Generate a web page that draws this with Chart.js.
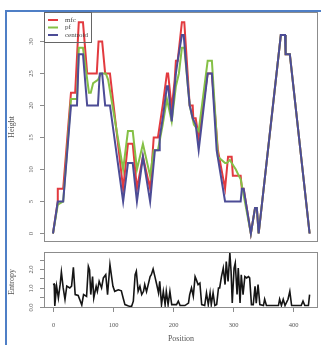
<!DOCTYPE html>
<html>
<head>
<meta charset="utf-8">
<script src="https://cdn.jsdelivr.net/npm/chart.js@4/dist/chart.umd.min.js"></script>
<style>
  html, body { margin: 0; padding: 0; background: #fff; }
  #wrap { position: relative; width: 321px; height: 345px; overflow: hidden; }
  #frame { position: absolute; left: 5px; top: 10px; width: 330px; height: 340px; border-top: 2px solid #4f7fc6; border-left: 2px solid #4f7fc6; }
  canvas { position: absolute; left: 0; top: 0; }
</style>
</head>
<body>
<div id="wrap">
  <div id="frame"></div>
  <canvas id="heightChart" width="321" height="345"></canvas>
  <canvas id="entropyChart" width="321" height="345"></canvas>
</div>
<script>
// tick labels
const positionTicks = [0, 100, 200, 300, 400];
const heightTicks = [0, 5, 10, 15, 20, 25, 30];
const entropyTicks = [0, 0.5, 1, 1.5, 2, 2.5];
const entropyLabelled = [0, 1, 2];

// height profiles (position, height)
const mfcPos = [0, 8, 8, 17, 30, 37, 43, 50, 57, 73, 76, 82, 87, 95, 117, 125, 133, 140, 150, 162, 168, 175, 183, 190, 192, 198, 203, 205, 208, 215, 219, 228, 233, 234, 238, 243, 258, 265, 275, 287, 290, 292, 298, 300, 313, 315, 318, 330, 337, 340, 343, 380, 387, 388, 395, 428];
const mfcVal = [0, 5, 7, 7, 22, 22, 33, 33, 25, 25, 30, 30, 25, 25, 7, 14, 14, 7, 12, 7, 15, 15, 20, 25, 25, 19.5, 24, 27, 27, 33, 33, 20, 20, 18, 18, 15, 25, 25, 13, 7, 10, 12, 12, 9, 9, 7, 7, 0, 4, 4, 0, 31, 31, 28, 28, 0];

const pfPos = [0, 8, 17, 30, 40, 43, 50, 60, 63, 67, 75, 80, 88, 92, 117, 125, 133, 140, 150, 162, 168, 175, 183, 190, 198, 205, 210, 215, 219, 228, 235, 243, 258, 265, 275, 287, 290, 295, 298, 305, 310, 313, 330, 337, 340, 343, 380, 387, 388, 395, 428];
const pfVal = [0, 4.5, 5, 21, 21, 29, 29, 22, 22, 23.5, 24, 25, 25, 24, 10, 16, 16, 10, 14, 9, 13, 13, 17, 21, 17.5, 23, 25, 29, 29, 20, 17, 16, 27, 27, 12, 11, 11, 11.5, 11, 10, 9, 8.5, 0, 4, 4, 0, 31, 31, 28, 28, 0];

const centroidPos = [0, 8, 17, 30, 40, 43, 50, 57, 75, 78, 82, 87, 95, 117, 125, 133, 140, 150, 162, 170, 177, 178, 183, 190, 192, 198, 203, 205, 208, 215, 218, 225, 228, 233, 238, 243, 258, 265, 273, 287, 313, 315, 318, 330, 337, 340, 343, 380, 387, 388, 395, 428];
const centroidVal = [0, 5, 5, 20, 20, 28, 28, 20, 20, 25, 25, 20, 20, 5, 11, 11, 5, 12, 5, 13, 13, 15, 18, 23, 23, 17.5, 23, 25, 27, 31, 31, 23, 20, 18, 17, 13, 25, 25, 13, 5, 5, 7, 7, 0, 4, 4, 0, 31, 31, 28, 28, 0];

// entropy (position, entropy)
const entropyPos = [0, 2, 3, 6, 9, 12, 14, 17, 20, 23, 28, 31, 34, 37, 42, 48, 51, 56, 59, 61,
  63, 66, 68, 72, 74, 77, 81, 84, 88, 91, 95, 98, 100, 103, 109, 114, 117, 120, 126, 131,
  134, 137, 139, 142, 145, 148, 151, 153, 156, 162, 164, 167, 170, 173, 176, 178, 181, 184, 187, 189,
  192, 195, 198, 206, 209, 212, 220, 226, 228, 231, 234, 237, 239, 242, 245, 248, 253, 256, 259, 262,
  264, 267, 270, 273, 276, 278, 281, 284, 287, 289, 292, 295, 297, 299, 302, 304, 307, 309, 312, 314,
  317, 320, 323, 326, 328, 331, 334, 337, 339, 342, 345, 351, 353, 356, 376, 378, 381, 384, 387, 392,
  395, 398, 414, 417, 420, 426, 428];
const entropyVal = [1.18, 1.2, 0.05, 1.1, 0.47, 1.2, 1.84, 1.0, 0.39, 1.1, 1.0, 1.1, 2.09, 0.65, 0.6, 0.1, 0.65, 0.55, 2.14, 1.96,
  0.65, 1.6, 0.47, 1.09, 0.82, 1.35, 1.0, 1.53, 1.7, 0.65, 2.23, 1.53, 1.09, 0.82, 0.9, 0.85, 0.47, 0.12, 0.05, 0.02,
  0.3, 1.7, 1.88, 0.82, 1.09, 0.65, 0.82, 1.18, 0.8, 1.6, 1.7, 2.0, 1.6, 1.18, 0.74, 1.35, 0.12, 0.82, 0.12, 0.82,
  0.12, 0.82, 0.12, 0.12, 0.3, 0.07, 0.07, 0.2, 0.65, 1.0, 0.56, 1.6, 1.44, 1.18, 1.26, 0.12, 0.07, 0.74, 0.12, 0.74,
  0.12, 0.74, 0.07, 0.12, 1.0, 1.0, 1.6, 2.05, 1.18, 2.4, 1.35, 2.84, 1.88, 0.2, 2.05, 2.32, 0.65, 2.05, 0.2, 1.7,
  0.65, 1.6, 1.53, 1.6, 1.53, 0.12, 0.12, 1.09, 0.2, 1.18, 0.12, 0.07, 0.4, 0.07, 0.07, 0.4, 0.07, 0.4, 0.07, 0.4,
  0.82, 0.07, 0.07, 0.3, 0.07, 0.07, 0.65];

const toPoints = (xs, ys) => xs.map((x, i) => ({ x: x, y: ys[i] }));

const serif = '"Liberation Serif", "DejaVu Serif", serif';
const axisGrey = '#8c8c8c';
const textGrey = '#555';

// R-style box, ticks and rotated labels, all placed through the chart scales
function rAxes(cfg) {
  return {
    id: 'rAxes',
    afterDraw(chart) {
      const ctx = chart.ctx;
      const a = chart.chartArea;
      const xs = chart.scales.x;
      const ys = chart.scales.y;
      ctx.save();
      ctx.strokeStyle = axisGrey;
      ctx.lineWidth = 1;
      ctx.strokeRect(a.left + 0.5, a.top + 0.5, a.right - a.left - 1, a.bottom - a.top - 1);

      ctx.fillStyle = textGrey;
      ctx.font = '6.5px ' + serif;
      ctx.textAlign = 'center';
      ctx.textBaseline = 'middle';

      cfg.yTicks.forEach(v => {
        const y = Math.round(ys.getPixelForValue(v)) + 0.5;
        ctx.beginPath();
        ctx.moveTo(a.left - 4, y);
        ctx.lineTo(a.left, y);
        ctx.stroke();
        if (cfg.yLabelled.includes(v)) {
          ctx.save();
          ctx.translate(31, y);
          ctx.rotate(-Math.PI / 2);
          ctx.fillText(cfg.yFormat(v), 0, 0);
          ctx.restore();
        }
      });

      if (cfg.xTicks) {
        cfg.xTicks.forEach(v => {
          const x = Math.round(xs.getPixelForValue(v)) + 0.5;
          ctx.beginPath();
          ctx.moveTo(x, a.bottom);
          ctx.lineTo(x, a.bottom + 4);
          ctx.stroke();
          ctx.fillText(String(v), x, a.bottom + 17);
        });
        ctx.font = '8px ' + serif;
        ctx.fillText(cfg.xTitle, (a.left + a.right) / 2, a.bottom + 31);
      }

      ctx.font = '8px ' + serif;
      ctx.save();
      ctx.translate(12, cfg.yTitleY);
      ctx.rotate(-Math.PI / 2);
      ctx.fillText(cfg.yTitle, 0, 0);
      ctx.restore();
      ctx.restore();
    }
  };
}

const boxLegend = {
  id: 'boxLegend',
  afterDraw(chart) {
    const ctx = chart.ctx;
    const a = chart.chartArea;
    const items = chart.data.datasets.slice().sort((p, q) => q.order - p.order);
    ctx.save();
    ctx.strokeStyle = '#666';
    ctx.lineWidth = 1;
    ctx.strokeRect(a.left + 0.5, a.top + 0.5, 47, 30);
    ctx.font = '7px ' + serif;
    ctx.textBaseline = 'middle';
    ctx.textAlign = 'left';
    items.forEach((ds, i) => {
      const y = a.top + 8 + i * 7.5;
      ctx.strokeStyle = ds.borderColor;
      ctx.lineWidth = 2;
      ctx.beginPath();
      ctx.moveTo(a.left + 4, y);
      ctx.lineTo(a.left + 14, y);
      ctx.stroke();
      ctx.fillStyle = '#444';
      ctx.fillText(ds.label, a.left + 21, y);
    });
    ctx.restore();
  }
};

const baseOptions = (pad, yMin, yMax) => ({
  responsive: false,
  animation: false,
  layout: { padding: pad },
  plugins: { legend: { display: false }, tooltip: { enabled: false } },
  elements: { point: { radius: 0 }, line: { tension: 0 } },
  scales: {
    x: { type: 'linear', min: -15, max: 442, display: false },
    y: { type: 'linear', min: yMin, max: yMax, display: false }
  }
});

new Chart(document.getElementById('heightChart').getContext('2d'), {
  type: 'line',
  data: {
    datasets: [
      { label: 'mfc', data: toPoints(mfcPos, mfcVal), borderColor: '#e23a3f', borderWidth: 2, order: 3 },
      { label: 'pf', data: toPoints(pfPos, pfVal), borderColor: '#85c046', borderWidth: 2, order: 2 },
      { label: 'centroid', data: toPoints(centroidPos, centroidVal), borderColor: '#4c4c96', borderWidth: 2, order: 1 }
    ]
  },
  options: baseOptions({ left: 44, right: 3, top: 12, bottom: 103 }, -1.33, 34.6),
  plugins: [rAxes({
    yTicks: heightTicks, yLabelled: heightTicks, yFormat: v => String(v),
    yTitle: 'Height', yTitleY: 127
  }), boxLegend]
});

new Chart(document.getElementById('entropyChart').getContext('2d'), {
  type: 'line',
  data: {
    datasets: [
      { label: 'Entropy', data: toPoints(entropyPos, entropyVal), borderColor: '#151515', borderWidth: 1.6 }
    ]
  },
  options: baseOptions({ left: 44, right: 3, top: 252, bottom: 37 }, -0.06, 2.9),
  plugins: [rAxes({
    yTicks: entropyTicks, yLabelled: entropyLabelled, yFormat: v => v.toFixed(1),
    yTitle: 'Entropy', yTitleY: 282,
    xTicks: positionTicks, xTitle: 'Position'
  })]
});
</script>
</body>
</html>
